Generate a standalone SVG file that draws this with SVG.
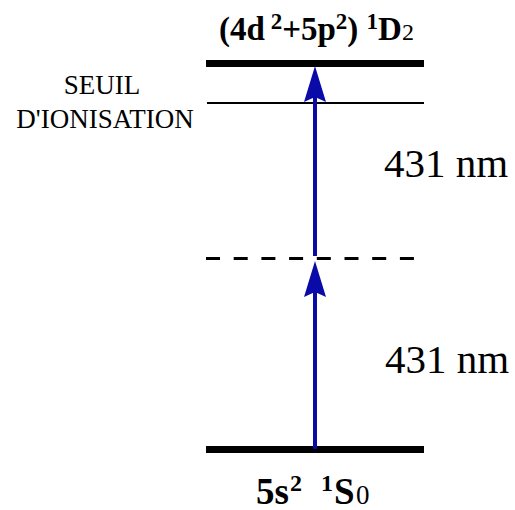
<svg xmlns="http://www.w3.org/2000/svg" width="515" height="510" viewBox="0 0 515 510">
<style>
.lvl{stroke:#000;fill:none}
.thick{stroke-width:7}
.thin{stroke-width:2}
.dash{stroke-width:3;stroke-dasharray:14 13.7}
.arr{stroke:#0a0aa8;stroke-width:4;fill:none}
</style>
<defs>
<marker id="ah" markerUnits="userSpaceOnUse" markerWidth="40" markerHeight="24" refX="5" refY="11" orient="auto">
<path d="M0,0 L36,11 L0,22 L5,11 z" fill="#0a0aa8"/>
</marker>
</defs>
<rect width="515" height="510" fill="#fff"/>
<g font-family="Liberation Serif, serif" fill="#000">
<g id="level-top">
<line class="lvl thick" x1="206" y1="63.5" x2="424" y2="63.5"/>
<text x="316.5" y="40" font-size="33" font-weight="bold" text-anchor="middle">(4d<tspan font-size="23" dy="-11"> 2</tspan><tspan dy="11">+5p</tspan><tspan font-size="23" dy="-11">2</tspan><tspan dy="11">) </tspan><tspan font-size="23" dy="-11">1</tspan><tspan dy="11">D</tspan><tspan font-size="24" font-weight="normal">2</tspan></text>
</g>
<g id="level-ionisation">
<line class="lvl thin" x1="207" y1="103" x2="424" y2="103"/>
<text x="102" y="94" font-size="27" text-anchor="middle">SEUIL</text>
<text x="105" y="128" font-size="27" text-anchor="middle">D'IONISATION</text>
</g>
<g id="level-virtual">
<line class="lvl dash" x1="206" y1="258.5" x2="424" y2="258.5"/>
</g>
<g id="level-ground">
<line class="lvl thick" x1="206" y1="449.5" x2="424" y2="449.5"/>
<text x="256" y="504" font-size="37" font-weight="bold">5s<tspan x="290" y="491" font-size="24">2</tspan><tspan x="321" y="491" font-size="24">1</tspan><tspan x="334" y="504">S</tspan><tspan x="356" font-size="27" font-weight="normal">0</tspan></text>
</g>
<g id="connectors">
<line class="arr" x1="315" y1="449" x2="315" y2="292" marker-end="url(#ah)"/>
<line class="arr" x1="315" y1="256" x2="315" y2="97" marker-end="url(#ah)"/>
</g>
<g id="labels">
<text x="384" y="177" font-size="41">431 nm</text>
<text x="385" y="373" font-size="41">431 nm</text>
</g>
</g>
</svg>
